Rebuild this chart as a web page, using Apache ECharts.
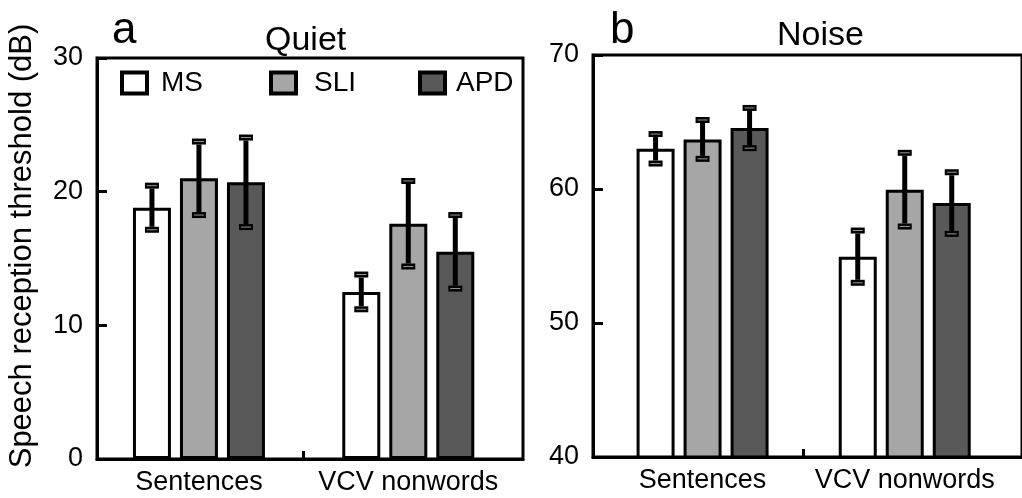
<!DOCTYPE html>
<html>
<head>
<meta charset="utf-8">
<script src="https://cdn.jsdelivr.net/npm/echarts@6/dist/echarts.min.js"></script>
<style>
  html, body { margin: 0; padding: 0; background: #fff; }
  #chart { width: 1022px; height: 498px; }
</style>
</head>
<body>
<div id="chart"></div>
<script>
// Test conditions (x axis) and listener groups (series)
const conditions = ['Sentences', 'VCV nonwords'];
const groups = ['MS', 'SLI', 'APD'];

// Speech reception threshold in dB, one row per group (MS, SLI, APD),
// one value per condition (Sentences, VCV nonwords)
const quietMeans  = [[18.8, 12.5], [21.0, 17.6], [20.7, 15.5]];
const quietErrors = [[1.65, 1.3], [2.75, 3.2], [3.35, 2.75]];
const noiseMeans  = [[63.0, 54.95], [63.7, 59.95], [64.55, 58.95]];
const noiseErrors = [[1.1, 1.95], [1.45, 2.75], [1.5, 2.3]];

// Y tick labels for each panel
const quietTicks = [0, 10, 20, 30];
const noiseTicks = [40, 50, 60, 70];

const FONT = '"Liberation Sans", Arial, Helvetica, sans-serif';
const fills = ['#ffffff', '#a6a6a6', '#595959'];
const BAR_W = 38;          // bar body width (px)
const BAR_GAP = 9;         // gap between neighbouring bar bodies (px)

const chart = echarts.init(document.getElementById('chart'), null, { renderer: 'canvas' });

function xAxisFor(gridIndex, min, max) {
  return {
    type: 'value', gridIndex, min, max,
    splitLine: { show: false },
    axisLine: { show: true, onZero: false, lineStyle: { color: '#000', width: 3 } },
    axisTick: { show: true, inside: true, length: 8, customValues: [0.5],
                lineStyle: { color: '#000', width: 3 } },
    axisLabel: { customValues: [0, 1], formatter: v => conditions[Math.round(v)],
                 color: '#000', fontSize: 27, fontFamily: FONT, margin: 10 }
  };
}

function yAxisFor(gridIndex, ticks) {
  return {
    type: 'value', gridIndex,
    min: ticks[0], max: ticks[ticks.length - 1], interval: ticks[1] - ticks[0],
    splitLine: { show: false },
    axisLine: { show: true, onZero: false, lineStyle: { color: '#000', width: 3 } },
    axisTick: { show: true, inside: true, length: 10, lineStyle: { color: '#000', width: 3 } },
    axisLabel: { color: '#000', fontSize: 27, fontFamily: FONT, margin: 14 }
  };
}

function barSeries(means, g, panel) {
  return {
    type: 'bar', name: groups[g], xAxisIndex: panel, yAxisIndex: panel,
    barWidth: BAR_W, barGap: (BAR_GAP / BAR_W * 100) + '%',
    itemStyle: { color: fills[g], borderColor: '#000', borderWidth: 3 },
    data: means[g].map((m, i) => [i, m]),
    z: 2
  };
}

function errorSeries(means, errors, g, panel) {
  const offset = (g - 1) * (BAR_W + BAR_GAP);
  return {
    type: 'custom', xAxisIndex: panel, yAxisIndex: panel, z: 5,
    data: means[g].map((m, i) => [i, m - errors[g][i], m + errors[g][i]]),
    renderItem(params, api) {
      const lo = api.coord([api.value(0), api.value(1)]);
      const hi = api.coord([api.value(0), api.value(2)]);
      const x = lo[0] + offset;
      const capW = 14, capH = 6;
      const cap = y => ([
        { type: 'rect', shape: { x: x - capW / 2, y: y - capH / 2, width: capW, height: capH },
          style: { fill: '#000' } },
        { type: 'line', shape: { x1: x - capW / 2 + 2, y1: y, x2: x + capW / 2 - 2, y2: y },
          style: { stroke: '#9a9a9a', lineWidth: 1 } }
      ]);
      return {
        type: 'group',
        children: [
          { type: 'line', shape: { x1: x, y1: hi[1] + capH / 2, x2: x, y2: lo[1] - capH / 2 },
            style: { stroke: '#000', lineWidth: 5 } },
          ...cap(hi[1]),
          ...cap(lo[1])
        ]
      };
    }
  };
}

const series = [];
[0, 1, 2].forEach(g => series.push(barSeries(quietMeans, g, 0)));
[0, 1, 2].forEach(g => series.push(barSeries(noiseMeans, g, 1)));
[0, 1, 2].forEach(g => series.push(errorSeries(quietMeans, quietErrors, g, 0)));
[0, 1, 2].forEach(g => series.push(errorSeries(noiseMeans, noiseErrors, g, 1)));

// One legend per entry so each label can sit at its own spot
const legendSpots = [
  { left: 120, pad: 9 },
  { left: 269, pad: 13 },
  { left: 418, pad: 6 }
];
const legends = groups.map((name, g) => ({
  data: [name], left: legendSpots[g].left, top: 69, padding: 0,
  icon: 'rect', itemWidth: 25, itemHeight: 21, selectedMode: false,
  itemStyle: { borderColor: '#000', borderWidth: 4 },
  textStyle: { color: '#000', fontSize: 28, fontFamily: FONT, lineHeight: 28,
               padding: [0, 0, 0, legendSpots[g].pad] }
}));

const titleStyle = size => ({ color: '#000', fontSize: size, fontWeight: 'normal', fontFamily: FONT });

chart.setOption({
  animation: false,
  backgroundColor: '#fff',
  title: [
    { text: 'a', left: 112, top: 9, padding: 0, textStyle: titleStyle(44) },
    { text: 'Quiet', left: 265, top: 24, padding: 0, textStyle: titleStyle(34) },
    { text: 'b', left: 610, top: 9, padding: 0, textStyle: titleStyle(44) },
    { text: 'Noise', left: 777, top: 19, padding: 0, textStyle: titleStyle(34) }
  ],
  legend: legends,
  grid: [
    { left: 97, top: 58, width: 426, height: 401, show: true, borderColor: '#000', borderWidth: 3 },
    { left: 593, top: 55, width: 430, height: 402, show: true, borderColor: '#000', borderWidth: 3 }
  ],
  // x extents keep each condition group centred inside its half of the panel
  xAxis: [xAxisFor(0, -0.487, 1.548), xAxisFor(1, -0.542, 1.580)],
  yAxis: [yAxisFor(0, quietTicks), yAxisFor(1, noiseTicks)],
  graphic: [
    { type: 'text', x: 22, y: 246, rotation: Math.PI / 2,
      style: { text: 'Speech reception threshold (dB)', fill: '#000', fontSize: 31,
               fontFamily: FONT, align: 'center', verticalAlign: 'middle' } }
  ],
  series
});
</script>
</body>
</html>
